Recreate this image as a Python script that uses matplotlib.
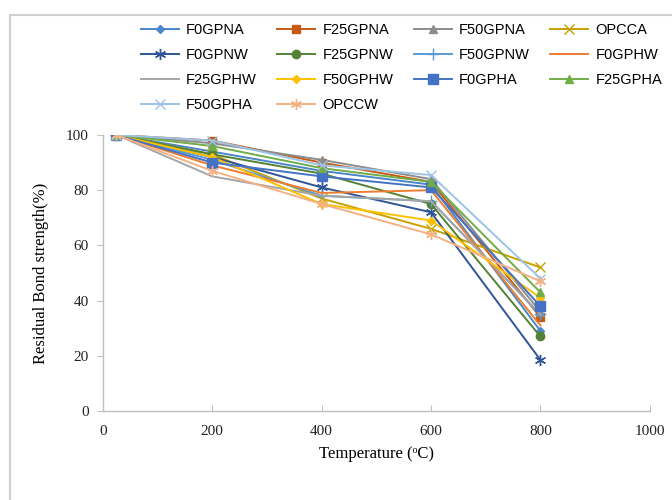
import matplotlib
matplotlib.use("Agg")
import matplotlib.pyplot as plt
from matplotlib.patches import Rectangle

temps = [25, 200, 400, 600, 800]

names = ["F0GPNA", "F25GPNA", "F50GPNA", "OPCCA",
         "F0GPNW", "F25GPNW", "F50GPNW", "F0GPHW",
         "F25GPHW", "F50GPHW", "F0GPHA", "F25GPHA",
         "F50GPHA", "OPCCW"]

f0gpna = [100, 94, 87, 82, 29]
f25gpna = [100, 98, 90, 83, 34]
f50gpna = [100, 97, 91, 84, 36]
opcca = [100, 93, 77, 66, 52]
f0gpnw = [100, 92, 81, 72, 18.5]
f25gpnw = [100, 93, 86, 75, 27]
f50gpnw = [100, 91, 78, 76, 35]
f0gphw = [100, 89, 79, 80, 31]
f25gphw = [100, 85, 78, 76, 35]
f50gphw = [100, 92, 75, 69, 41]
f0gpha = [100, 90, 85, 81, 38]
f25gpha = [100, 96, 88, 83, 43]
f50gpha = [100, 98, 89, 85.5, 48]
opccw = [100, 87, 75, 64, 47]

series = [f0gpna, f25gpna, f50gpna, opcca, f0gpnw, f25gpnw, f50gpnw,
          f0gphw, f25gphw, f50gphw, f0gpha, f25gpha, f50gpha, opccw]

colors = ["#4a86c8", "#c55a11", "#8c8c8c", "#c9a200",
          "#2f5597", "#548235", "#5b9bd5", "#ed7d31",
          "#a5a5a5", "#ffc000", "#4472c4", "#70ad47",
          "#9dc3e6", "#f4b183"]
asterisk = (6, 2, 0)
markers = ["D", "s", "^", "x", asterisk, "o", "+", None,
           None, "D", "s", "^", "x", asterisk]
msizes = [4, 6, 6, 7, 8, 6, 8, 0, 0, 4, 7, 6, 7, 8]

fig = plt.figure(figsize=(6.72, 5), dpi=100)
ax = fig.add_axes([0.153, 0.178, 0.814, 0.552])

handles = []
for name, vals, c, m, ms in zip(names, series, colors, markers, msizes):
    h, = ax.plot(temps, vals, color=c, marker=m, markersize=ms,
                 linewidth=1.4, markeredgewidth=1.0, label=name)
    handles.append(h)

ax.set_xlim(0, 1000)
ax.set_ylim(0, 100)
ax.set_xticks(range(0, 1001, 200))
ax.set_yticks(range(0, 101, 20))
for s in ["top", "right"]:
    ax.spines[s].set_visible(False)
for s in ["left", "bottom"]:
    ax.spines[s].set_color("#bfbfbf")
    ax.spines[s].set_linewidth(1.0)
ax.tick_params(axis="x", direction="in", length=4, color="#bfbfbf",
               labelsize=11, pad=10)
ax.tick_params(axis="y", direction="out", length=4, color="#bfbfbf",
               labelsize=11, pad=6)
for lab in ax.get_xticklabels() + ax.get_yticklabels():
    lab.set_fontfamily("Liberation Serif")
    lab.set_color("#222222")

ax.set_xlabel("Temperature (\u1d52C)", fontfamily="Liberation Serif",
              fontsize=12, labelpad=6)
ax.set_ylabel("Residual Bond strength(%)", fontfamily="Liberation Serif",
              fontsize=12, labelpad=12)

# legend reads row by row, matplotlib fills column by column
ncol = 4
order = []
for col in range(ncol):
    order += list(range(col, len(handles), ncol))
fig.legend([handles[i] for i in order], [names[i] for i in order],
           loc="upper left", bbox_to_anchor=(0.19, 0.98), ncol=ncol,
           frameon=False, prop={"family": "Liberation Sans", "size": 10.5},
           handlelength=2.6, handletextpad=0.5, columnspacing=1.4,
           labelspacing=0.75)

# outer chart-area border
fig.add_artist(Rectangle((10 / 672, -0.05), 1.2, 1 - 15 / 500 + 0.05,
                         transform=fig.transFigure, fill=False,
                         edgecolor="#d0d0d0", linewidth=1.5))

fig.savefig("out.png", dpi=100)
